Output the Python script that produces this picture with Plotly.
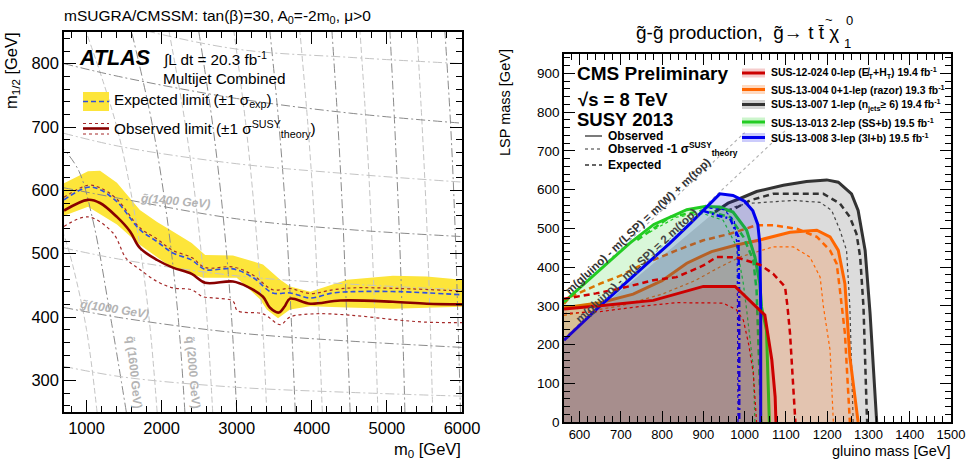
import plotly.graph_objects as go

W, H = 967, 459
FONT = "Liberation Sans, Arial, Helvetica, sans-serif"

# ---------------- Left panel: ATLAS mSUGRA/CMSSM exclusion ----------------
obs_m0 = [700, 1020, 1180, 1405, 1580, 1710, 1940, 2150, 2400, 2580, 2950, 3140, 3350, 3440, 3560, 3640, 3710, 3980, 4380, 5080, 5530, 6000]
obs_m12 = [568, 585, 580, 558, 535, 509, 490, 478, 468, 454, 456, 448, 432, 415, 407, 417, 429, 421, 426, 424, 421, 420]

exp_m0 = [700, 1020, 1180, 1405, 1710, 1940, 2150, 2400, 2580, 2950, 3220, 3480, 3710, 3980, 4280, 4550, 5170, 6000]
exp_m12 = [585, 605, 601, 582, 538, 519, 501, 490, 475, 476, 462, 438, 438, 430, 438, 440, 440, 435]

band_up_m0 = [700, 1020, 1180, 1405, 1710, 1940, 2150, 2400, 2580, 2950, 3350, 3580, 3710, 3980, 4470, 5080, 5530, 6000]
band_up_m12 = [611, 630, 631, 612, 569, 550, 535, 517, 498, 497, 483, 459, 448, 440, 459, 465, 464, 459]
band_lo_m0 = [700, 1020, 1405, 1710, 2110, 2550, 3000, 3310, 3400, 3550, 3710, 3980, 4470, 5080, 6000]
band_lo_m12 = [560, 574, 546, 514, 480, 462, 462, 428, 412, 398, 412, 417, 415, 413, 416]

obs_up_m0 = [700, 1020, 1180, 1405, 1710, 1940, 2150, 2400, 2580, 2950, 3220, 3480, 3710, 3980, 4280, 4550, 5170, 6000]
obs_up_m12 = [589, 608, 604, 586, 541, 523, 505, 494, 478, 479, 466, 443, 445, 437, 443, 446, 445, 441]
obs_lo_m0 = [700, 1020, 1350, 1530, 1710, 1940, 2150, 2400, 2550, 2700, 2950, 3010, 3350, 3580, 3710, 4030, 4500, 5080, 5500, 6000]
obs_lo_m12 = [543, 558, 533, 492, 475, 456, 446, 443, 432, 430, 425, 410, 405, 388, 400, 405, 403, 396, 392, 391]

# squark iso-mass contours (m0 points, m1/2 points)
squark_light = [
    ([1140, 1000, 820, 700], [250, 380, 480, 530]),
    ([1940, 1831, 1660, 1403, 996], [250, 400, 550, 700, 850]),
    ([2680, 2602, 2485, 2321, 2100], [250, 400, 550, 700, 850]),
    ([3400, 3339, 3248, 3125, 2964], [250, 400, 550, 700, 850]),
    ([4140, 4090, 4035, 3950, 3842], [250, 400, 550, 700, 850]),
    ([4880, 4840, 4790, 4725, 4642], [250, 400, 550, 700, 850]),
    ([5610, 5575, 5530, 5470, 5400], [250, 400, 550, 700, 850]),
]
squark_dark = [
    ([1530, 1320, 1090, 900, 700], [250, 400, 550, 630, 665]),
    ([2310, 2220, 2080, 1882, 1601], [250, 400, 550, 700, 850]),
    ([3000, 2931, 2827, 2684, 2496], [250, 400, 550, 700, 850]),
    ([3780, 3725, 3660, 3565, 3443], [250, 400, 550, 700, 850]),
    ([4510, 4465, 4415, 4350, 4269], [250, 400, 550, 700, 850]),
    ([5240, 5205, 5160, 5105, 5041], [250, 400, 550, 700, 850]),
    ([5980, 5945, 5905, 5850, 5773], [250, 400, 550, 700, 850]),
]
# gluino iso-mass contours
gluino_m0 = [700, 1500, 3000, 4500, 6000]
gluino_light = [
    [322, 305, 289, 281, 275],
    [509, 490, 465, 452, 443],
    [690, 668, 642, 626, 613],
    [885, 860, 823, 810, 800],
]
gluino_dark = [
    [415, 398, 375, 362, 352],
    [604, 586, 555, 538, 527],
    [800, 778, 745, 722, 706],
]

# ---------------- Right panel: CMS gluino -> t tbar LSP summary ----------------
red_obs_x = [562.5, 650, 779, 900, 977, 1013, 1049, 1066, 1074, 1076]
red_obs_y = [292, 300, 314, 350, 350, 314, 276, 160, 65, 0]
red_exp_x = [562.5, 640, 700, 779, 835, 900, 932, 981, 1037, 1069, 1098, 1104, 1110, 1123]
red_exp_y = [318, 332, 345, 366, 374, 404, 426, 425, 406, 383, 349, 297, 229, 0]
red_m1s_x = [562.5, 650, 760, 835, 948, 980, 997, 1010, 1021, 1029]
red_m1s_y = [280, 285, 300, 308, 307, 290, 263, 200, 126, 0]

orange_obs_x = [562.5, 650, 730, 800, 860, 920, 980, 1037, 1110, 1175, 1207, 1227, 1243, 1247, 1255, 1275]
orange_obs_y = [295, 308, 330, 365, 410, 440, 457, 470, 490, 495, 478, 443, 357, 297, 168, 0]
orange_exp_x = [562.5, 577, 650, 702, 747, 835, 900, 965, 1029, 1069, 1126, 1175, 1207, 1223, 1231, 1235, 1243, 1255]
orange_exp_y = [305, 323, 357, 379, 404, 443, 469, 486, 508, 508, 499, 478, 443, 409, 340, 297, 229, 0]
orange_m1s_x = [562.5, 700, 800, 880, 940, 989, 1069, 1118, 1158, 1183, 1191, 1207, 1215]
orange_m1s_y = [275, 300, 330, 365, 400, 426, 452, 452, 426, 374, 297, 186, 0]

black_obs_x = [928, 960, 989, 1029, 1094, 1150, 1199, 1227, 1259, 1275, 1292, 1304, 1320]
black_obs_y = [542, 565, 577, 595, 611, 621, 625, 619, 589, 546, 443, 280, 0]
black_exp_x = [955, 976, 1013, 1069, 1191, 1231, 1255, 1271, 1280, 1288, 1296, 1297]
black_exp_y = [545, 551, 572, 589, 589, 564, 529, 486, 426, 297, 22, 0]
black_m1s_x = [975, 1005, 1118, 1183, 1211, 1231, 1247, 1255, 1263]
black_m1s_y = [555, 564, 572, 567, 546, 495, 443, 297, 0]

green_obs_x = [562.5, 621, 662, 722, 780, 823, 860, 904, 940, 972, 1005, 1025, 1037, 1041, 1053, 1060]
green_obs_y = [310, 365, 405, 462, 510, 530, 548, 556, 555, 542, 495, 426, 357, 297, 237, 0]
green_exp_x = [740, 819, 900, 965, 997, 1021, 1029, 1035, 1040]
green_exp_y = [470, 529, 546, 529, 478, 418, 340, 150, 0]
green_m1s_x = [770, 835, 900, 948, 981, 997, 1005, 1021, 1025]
green_m1s_y = [490, 529, 538, 521, 452, 357, 289, 142, 0]

blue_obs_x = [562.5, 650, 739, 819, 868, 916, 940, 972, 1000, 1020, 1032, 1037, 1039, 1039]
blue_obs_y = [211, 300, 385, 462, 512, 565, 589, 585, 570, 545, 510, 460, 297, 0]
blue_exp_x = [900, 932, 965, 985, 987, 987]
blue_exp_y = [545, 534, 525, 478, 297, 0]
blue_m1s_x = [915, 950, 975, 982, 984]
blue_m1s_y = [552, 548, 520, 450, 0]

# kinematic boundaries
diag_wtop_x = [562.5, 1000]
diag_wtop_y = [309.5, 747]
diag_2top_x = [562.5, 1100]
diag_2top_y = [216.5, 754]

GLUINO_MIN = 562.5

legend_labels = [
    "SUS-12-024 0-lep (E\u0338<sub>T</sub>+H<sub>T</sub>) 19.4 fb<sup>-1</sup>",
    "SUS-13-004 0+1-lep (razor) 19.3 fb<sup>-1</sup>",
    "SUS-13-007 1-lep (n<sub>jets</sub>\u2265 6) 19.4 fb<sup>-1</sup>",
    "SUS-13-013 2-lep (SS+b) 19.5 fb<sup>-1</sup>",
    "SUS-13-008 3-lep (3l+b) 19.5 fb<sup>-1</sup>",
]

fig = go.Figure()


def line(x, y, color, width, dash="solid", xa="x", ya="y", shape="linear"):
    fig.add_trace(go.Scatter(x=x, y=y, mode="lines", xaxis=xa, yaxis=ya,
                             line=dict(color=color, width=width, dash=dash, shape=shape),
                             hoverinfo="skip", showlegend=False))


def area(x, y, color, xa="x2", ya="y2"):
    fig.add_trace(go.Scatter(x=x, y=y, mode="lines", fill="toself", fillcolor=color,
                             xaxis=xa, yaxis=ya, line=dict(width=0),
                             hoverinfo="skip", showlegend=False))


# left: expected +-1 sigma band
area(band_up_m0 + band_lo_m0[::-1], band_up_m12 + band_lo_m12[::-1], "#fde53a", "x", "y")

# iso-mass contours
for xs, ys in squark_light:
    line(xs, ys, "#c4c4c4", 1, "6px,3px", shape="spline")
for xs, ys in squark_dark:
    line(xs, ys, "#8a8a8a", 1, "9px,3px,2px,3px", shape="spline")
for ys in gluino_light:
    line(gluino_m0, ys, "#c4c4c4", 1, "9px,3px,2px,3px", shape="spline")
for ys in gluino_dark:
    line(gluino_m0, ys, "#8a8a8a", 1, "9px,3px,2px,3px", shape="spline")

# limit curves
line(obs_lo_m0, obs_lo_m12, "#a52a2a", 1.2, "dot", shape="spline")
line(obs_up_m0, obs_up_m12, "#a52a2a", 1.2, "dot", shape="spline")
line(exp_m0, exp_m12, "#3050e0", 1.6, "5px,3px", shape="spline")
line(obs_m0, obs_m12, "#880000", 2.6, shape="spline")

# right: diagonals
line(diag_wtop_x, diag_wtop_y, "#b0b0b0", 1.1, "3px,3px", "x2", "y2")
line(diag_2top_x, diag_2top_y, "#b0b0b0", 1.1, "3px,3px", "x2", "y2")

# right: analyses (fill then curves)
area(black_obs_x + [GLUINO_MIN, GLUINO_MIN], black_obs_y + [0, 216.5], "rgba(80,80,80,0.2)")
line(black_m1s_x, black_m1s_y, "#444444", 1.2, "dot", "x2", "y2")
line(black_exp_x, black_exp_y, "#333333", 2.5, "6px,4px", "x2", "y2")
line(black_obs_x, black_obs_y, "#333333", 3, "solid", "x2", "y2")

area(orange_obs_x + [GLUINO_MIN], orange_obs_y + [0], "rgba(255,102,0,0.2)")
line(orange_m1s_x, orange_m1s_y, "#ff6600", 1.2, "dot", "x2", "y2")
line(orange_exp_x, orange_exp_y, "#ff6600", 2.5, "6px,4px", "x2", "y2")
line(orange_obs_x, orange_obs_y, "#ff6600", 3, "solid", "x2", "y2")

area(green_obs_x + [GLUINO_MIN], green_obs_y + [0], "rgba(0,204,0,0.15)")
line(green_m1s_x, green_m1s_y, "#22cc22", 1.2, "dot", "x2", "y2")
line(green_exp_x, green_exp_y, "#22cc22", 2.5, "6px,4px", "x2", "y2")
line(green_obs_x, green_obs_y, "#22cc22", 3, "solid", "x2", "y2")

area(blue_obs_x + [GLUINO_MIN], blue_obs_y + [0], "rgba(0,0,238,0.16)")
line(blue_m1s_x, blue_m1s_y, "#0000ee", 1.2, "dot", "x2", "y2")
line(blue_exp_x, blue_exp_y, "#0000ee", 2.5, "6px,3px,2px,3px", "x2", "y2")
line(blue_obs_x, blue_obs_y, "#0000ee", 3, "solid", "x2", "y2")

area(red_obs_x + [GLUINO_MIN], red_obs_y + [0], "rgba(204,0,0,0.13)")
line(red_m1s_x, red_m1s_y, "#cc0000", 1.2, "dot", "x2", "y2")
line(red_exp_x, red_exp_y, "#cc0000", 2.5, "6px,4px", "x2", "y2")
line(red_obs_x, red_obs_y, "#cc0000", 3, "solid", "x2", "y2")


def px(v):
    return v / W


def py(v):
    return 1 - v / H


ax_common = dict(showgrid=False, zeroline=False, showline=True, linecolor="black", linewidth=1.5,
                 mirror="allticks", ticks="inside", tickcolor="black", tickwidth=1.2)


def minor(dt):
    return dict(dtick=dt, ticklen=6, ticks="inside", tickcolor="black", tickwidth=1)


fig.update_layout(
    width=W, height=H, margin=dict(l=0, r=0, t=0, b=0, autoexpand=False),
    paper_bgcolor="white", plot_bgcolor="white", showlegend=False,
    xaxis=dict(domain=[px(64), px(462)], range=[700, 6000], tick0=0, dtick=1000, ticklen=12,
               minor=minor(200), anchor="y", automargin=False,
               tickfont=dict(family=FONT, size=16.5, color="black"), **ax_common),
    yaxis=dict(domain=[py(412), py(32)], range=[250, 850], tick0=0, dtick=100, ticklen=12,
               minor=minor(20), anchor="x", automargin=False,
               tickfont=dict(family=FONT, size=16.5, color="black"), **ax_common),
    xaxis2=dict(domain=[px(564), px(951)], range=[562.5, 1500], tick0=0, dtick=100, ticklen=11,
                minor=minor(20), anchor="y2", automargin=False,
                tickfont=dict(family=FONT, size=13, color="black"), **ax_common),
    yaxis2=dict(domain=[py(422), py(54)], range=[0, 950], tick0=0, dtick=100, ticklen=11,
                minor=minor(20), anchor="x2", automargin=False,
                tickfont=dict(family=FONT, size=13.5, color="black"), **ax_common),
)

ann = []


def text(x, y, s, size, anchor="left", color="black", angle=0, yanchor="middle"):
    ann.append(dict(x=px(x), y=py(y), xref="paper", yref="paper", text=s, showarrow=False,
                    xanchor=anchor, yanchor=yanchor, textangle=angle, borderpad=0,
                    font=dict(family=FONT, size=size, color=color)))


# left panel texts
text(63, 17, "mSUGRA/CMSSM: tan(\u03b2)=30, A<sub>0</sub>=-2m<sub>0</sub>, \u03bc>0", 15.5)
text(78, 58, "<b><i>ATLAS</i></b>", 21.5)
text(162, 59, "\u222bL dt = 20.3 fb<sup>-1</sup>", 15.3)
text(162, 78, "Multijet Combined", 15.3)
text(113, 101, "Expected limit (\u00b11 \u03c3<sub>exp</sub>)", 15.3)
text(113, 129, "Observed limit (\u00b11 \u03c3<sup>SUSY</sup><sub>theory</sub>)", 15.3)
text(175, 201, "<b><i>g\u0303(1400 GeV)</i></b>", 12, "center", "#b4b4b4", 5)
text(114, 309, "<b><i>g\u0303(1000 GeV)</i></b>", 12, "center", "#b4b4b4", 9)
text(134, 372, "<b>q\u0303 (1600 GeV)</b>", 12, "center", "#b4b4b4", 84)
text(193, 372, "<b>q\u0303 (2000 GeV)</b>", 12, "center", "#b4b4b4", 85)
text(12, 71, "m<sub>1/2</sub> [GeV]", 16.5, "center", angle=-90)
text(462, 450, "m<sub>0</sub> [GeV]", 16.5, "right")

# right panel texts
text(840, 32, "g\u0303-g\u0303 production,  g\u0303\u2192 t t\u0304 \u03c7", 19, "right")
text(829, 19, "~", 13, "center")
text(845, 20, "0", 13)
text(843, 43, "1", 13)
text(576, 73, "<b>CMS Preliminary</b>", 19)
text(577, 99, "<b>\u221as = 8 TeV</b>", 18.5)
text(576, 119, "<b>SUSY 2013</b>", 18.5)
text(607, 136, "<b>Observed</b>", 12)
text(607, 149, "<b>Observed -1 \u03c3<sup>SUSY</sup><sub>theory</sub></b>", 12)
text(607, 165, "<b>Expected</b>", 12)
text(505, 103, "LSP mass [GeV]", 14.5, "center", angle=-90)
text(951, 451, "gluino mass [GeV]", 14.5, "right")
text(638, 226, "<b>m(gluino) - m(LSP) = m(W) + m(top)</b>", 11.5, "center", "#333333", -43)
text(636, 266, "<b>m(gluino) - m(LSP) = 2 m(top)</b>", 11.5, "center", "#444444", -43)

entry_y = [73, 89.5, 104.5, 122, 137.5]
entry_line = ["#cc0000", "#ff6600", "#333333", "#22cc22", "#0000ee"]
entry_fill = ["rgba(204,0,0,0.2)", "rgba(255,102,0,0.25)", "rgba(80,80,80,0.25)",
              "rgba(0,204,0,0.2)", "rgba(0,0,238,0.2)"]
for lab, yy in zip(legend_labels, entry_y):
    text(770, yy, "<b>" + lab + "</b>", 10.4)

fig.update_layout(annotations=ann)

shapes = []


def pshape(kind, x0, y0, x1, y1, **kw):
    shapes.append(dict(type=kind, xref="paper", yref="paper", x0=px(x0), x1=px(x1),
                       y0=py(y0), y1=py(y1), **kw))


# left legend swatches
pshape("rect", 83, 92, 109, 111, fillcolor="#fde53a", line=dict(width=0))
pshape("line", 83, 101.5, 109, 101.5, line=dict(color="#3050e0", width=1.6, dash="5px,3px"))
pshape("line", 83, 123.5, 109, 123.5, line=dict(color="#a52a2a", width=1.2, dash="dot"))
pshape("line", 83, 134, 109, 134, line=dict(color="#a52a2a", width=1.2, dash="dot"))
pshape("line", 83, 128.5, 109, 128.5, line=dict(color="#880000", width=2.6))

# right style legend swatches
pshape("line", 585, 136, 602, 136, line=dict(color="#333333", width=1.3))
pshape("line", 585, 149, 602, 149, line=dict(color="#333333", width=1.2, dash="dot"))
pshape("line", 585, 165, 602, 165, line=dict(color="#333333", width=1.3, dash="4px,3px"))

# analysis swatches
for yy, lc, fc in zip(entry_y, entry_line, entry_fill):
    pshape("rect", 742, yy - 4.5, 765, yy + 4.5, fillcolor=fc, line=dict(width=0))
    pshape("line", 742, yy, 765, yy, line=dict(color=lc, width=3))

fig.update_layout(shapes=shapes)

fig.write_html("out.html")
